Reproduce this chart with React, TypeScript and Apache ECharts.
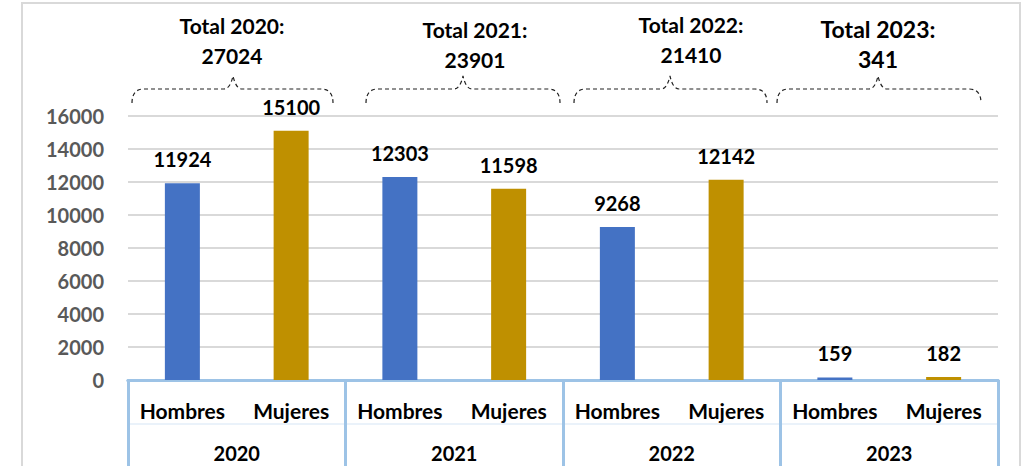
import React, { useEffect, useRef } from "react";
import * as echarts from "echarts";

const genders = ["Hombres", "Mujeres"];
const years = ["2020", "2021", "2022", "2023"];
const hombres = [11924, 12303, 9268, 159];
const mujeres = [15100, 11598, 12142, 182];
const totals = [27024, 23901, 21410, 341];
const yTicks = { min: 0, max: 16000, interval: 2000 };

const colorH = "#4472C4";
const colorM = "#BF9000";
const tableBlue = "#9DC3E6";
const FONT = 'Lato, "Noto Sans", sans-serif';

// annotation layout (braces + totals), in page pixels
const braceL = [132, 366, 574, 777];
const braceR = [333, 560, 767, 981];
const braceT = [233, 463, 670, 878];
const totalX = [232, 475, 691, 878];
const totalY = [40, 44, 39, 44];
const totalSize = [21, 21, 21, 23];

const Y_END = 103;
const Y_H = 89;
const Y_TIP = 76;

braceL.forEach((L, i) => {
  const R = braceR[i];
  const T = braceT[i];
  const d =
    `M${L},${Y_END} Q${L},${Y_H} ${L + 12},${Y_H} L${T - 9},${Y_H} ` +
    `Q${T - 3},${Y_H} ${T},${Y_TIP} Q${T + 3},${Y_H} ${T + 9},${Y_H} ` +
    `L${R - 12},${Y_H} Q${R},${Y_H} ${R},${Y_END}`;
  echarts.graphic.registerShape("brace" + i, echarts.graphic.extendPath(d, {}));
});

export default function App() {
  const ref = useRef<HTMLDivElement>(null);
  useEffect(() => {
    if (!ref.current) return;
    const chart = echarts.init(ref.current, null, { renderer: "svg" });
    const cats: string[] = [];
    const data: any[] = [];
    years.forEach((_, i) => {
      cats.push(genders[0], genders[1]);
      data.push({ value: hombres[i], itemStyle: { color: colorH } });
      data.push({ value: mujeres[i], itemStyle: { color: colorM } });
    });

    const graphics: any[] = [
      {
        type: "rect",
        shape: { x: 22, y: 3, width: 998, height: 490 },
        style: { fill: "none", stroke: "#D9D9D9", lineWidth: 2 },
        silent: true,
        z: 0,
      },
      {
        type: "line",
        shape: { x1: 128, y1: 424, x2: 998, y2: 424 },
        style: { stroke: "#E3EEF8", lineWidth: 1.5 },
        silent: true,
      },
    ];
    braceL.forEach((_, i) => {
      graphics.push({
        type: "brace" + i,
        x: 0,
        y: 0,
        style: { fill: "none", stroke: "#222", lineWidth: 1.2, lineDash: [4, 3] },
        silent: true,
      });
      graphics.push({
        type: "text",
        x: totalX[i],
        y: totalY[i],
        style: {
          text: `Total ${years[i]}:\n${totals[i]}`,
          font: `bold ${totalSize[i]}px ${FONT}`,
          fill: "#000",
          align: "center",
          verticalAlign: "middle",
          lineHeight: 30,
        },
        silent: true,
      });
    });

    chart.setOption({
      animation: false,
      backgroundColor: "#fff",
      grid: { left: 128, right: 30, top: 116, bottom: 86, containLabel: false },
      xAxis: [
        {
          type: "category",
          data: cats,
          position: "bottom",
          axisLine: { show: true, lineStyle: { color: tableBlue, width: 3 } },
          axisTick: { show: false },
          axisLabel: {
            interval: 0,
            margin: 20,
            color: "#000",
            fontFamily: FONT,
            fontWeight: "bold",
            fontSize: 21,
          },
        },
        {
          type: "category",
          data: years,
          position: "bottom",
          axisLine: { show: true, lineStyle: { color: tableBlue, width: 3 } },
          axisTick: {
            show: true,
            length: 95,
            lineStyle: { color: tableBlue, width: 3 },
          },
          axisLabel: {
            interval: 0,
            margin: 63,
            color: "#000",
            fontFamily: FONT,
            fontWeight: "bold",
            fontSize: 20,
          },
        },
      ],
      yAxis: {
        type: "value",
        min: yTicks.min,
        max: yTicks.max,
        interval: yTicks.interval,
        axisLine: { show: false },
        axisTick: { show: false },
        splitLine: { lineStyle: { color: "#D9D9D9", width: 2 } },
        axisLabel: {
          margin: 24,
          color: "#595959",
          fontFamily: FONT,
          fontWeight: "bold",
          fontSize: 20,
          formatter: (v: number) => String(v),
        },
      },
      series: [
        {
          type: "bar",
          xAxisIndex: 0,
          data,
          barWidth: 35,
          label: {
            show: true,
            position: "top",
            distance: 14,
            color: "#000",
            fontFamily: FONT,
            fontWeight: "bold",
            fontSize: 20,
          },
        },
      ],
      graphic: graphics,
    });
    return () => chart.dispose();
  }, []);
  return (
    <div
      ref={ref}
      style={{ position: "absolute", left: 0, top: 0, width: 1028, height: 466 }}
    />
  );
}
